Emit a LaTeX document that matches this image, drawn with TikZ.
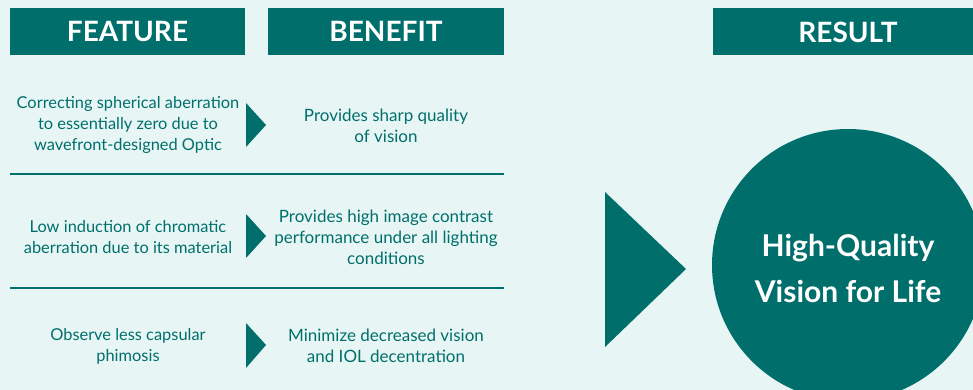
\documentclass[tikz,border=0pt]{standalone}
\usepackage{fontspec}
\setmainfont{Lato}
\definecolor{tealdk}{HTML}{006F6C}
\definecolor{bgc}{HTML}{E7F6F5}
\begin{document}
\begin{tikzpicture}[x=1pt,y=-1pt,
  header/.style={fill=tealdk, text=white, font=\bfseries\fontsize{28}{30}\selectfont, minimum height=47pt, inner sep=0pt},
  body/.style={text=tealdk, align=center, font=\fontsize{17}{21}\selectfont, inner sep=0pt},
  featbody/.style={body, font=\fontsize{16.4}{21}\selectfont},
  rule/.style={draw=tealdk, line width=2pt},
  tri/.style={fill=tealdk}]
\useasboundingbox (0,0) rectangle (973,390);
\clip (0,0) rectangle (973,390);
\fill[bgc] (0,0) rectangle (973,390);
% headers
\node[header, minimum width=235pt] (feat) at (127.5,31.5) {FEATURE};
\node[header, minimum width=236pt] (ben) at (386,31.5) {BENEFIT};
\node[header, minimum width=270pt] (res) at (848,32) {RESULT};
% row separators
\coordinate (l1a) at (10,174); \coordinate (l1b) at (504,174);
\coordinate (l2a) at (10,288); \coordinate (l2b) at (504,288);
\draw[rule] (l1a) -- (l1b);
\draw[rule] (l2a) -- (l2b);
% row 1
\node[featbody] (f1) at (128,125) {Correcting spherical aberration\\to essentially zero due to\\wavefront-designed Optic};
\node[body] (b1) at (386,126) {Provides sharp quality\\of vision};
\fill[tri] (246,103) -- (266,125) -- (246,147) -- cycle;
% row 2
\node[featbody] (f2) at (128,237) {Low induction of chromatic\\aberration due to its material};
\node[body] (b2) at (386,237) {Provides high image contrast\\performance under all lighting\\conditions};
\fill[tri] (246,214) -- (266,236) -- (246,258) -- cycle;
% row 3
\node[featbody] (f3) at (128,346) {Observe less capsular\\phimosis};
\node[body] (b3) at (386,346) {Minimize decreased vision\\and IOL decentration};
\fill[tri] (246,323) -- (266,345) -- (246,368) -- cycle;
% big arrow
\fill[tri] (605,192) -- (686,269) -- (605,347) -- cycle;
% result circle
\node[circle, fill=tealdk, minimum size=272pt, inner sep=0pt] (circ) at (848,265) {};
\node[text=white, align=center, font=\bfseries\fontsize{30}{46}\selectfont, inner sep=0pt] (rtext) at (848,268) {High-Quality\\Vision for Life};
\end{tikzpicture}
\end{document}
